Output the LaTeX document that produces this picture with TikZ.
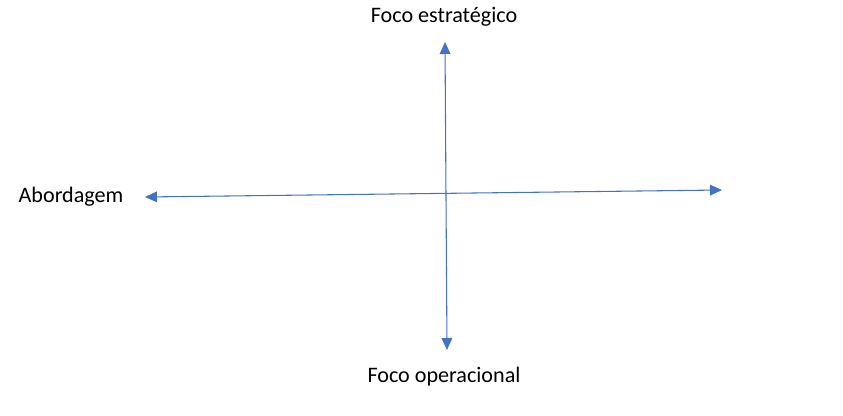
\documentclass[tikz,border=0pt]{standalone}
\usepackage{fontspec}
\setmainfont{Carlito}
\usetikzlibrary{arrows.meta}
\definecolor{axisblue}{HTML}{4472C4}

\tikzset{
  axisline/.style={axisblue, line width=0.8pt, {Triangle[length=9pt,width=8pt]}-{Triangle[length=9pt,width=8pt]}},
  axislabel/.style={font=\fontsize{16.6}{19}\selectfont, inner sep=0pt}
}

\begin{document}
\begin{tikzpicture}[x=0.75pt,y=-0.75pt]
\useasboundingbox (0,0) rectangle (843,416);

% Axis ends
\coordinate (top) at (445,42);
\coordinate (bottom) at (447,350);
\coordinate (left) at (145,197);
\coordinate (right) at (722,190);

% Axes
\draw[axisline] (bottom) -- (top);
\draw[axisline] (left) -- (right);

% Labels
\node[axislabel] (strat) at (444,17) {Foco estratégico};
\node[axislabel] (oper) at (444,377) {Foco operacional};
\node[axislabel] (abord) at (71,197) {Abordagem};
\end{tikzpicture}
\end{document}
